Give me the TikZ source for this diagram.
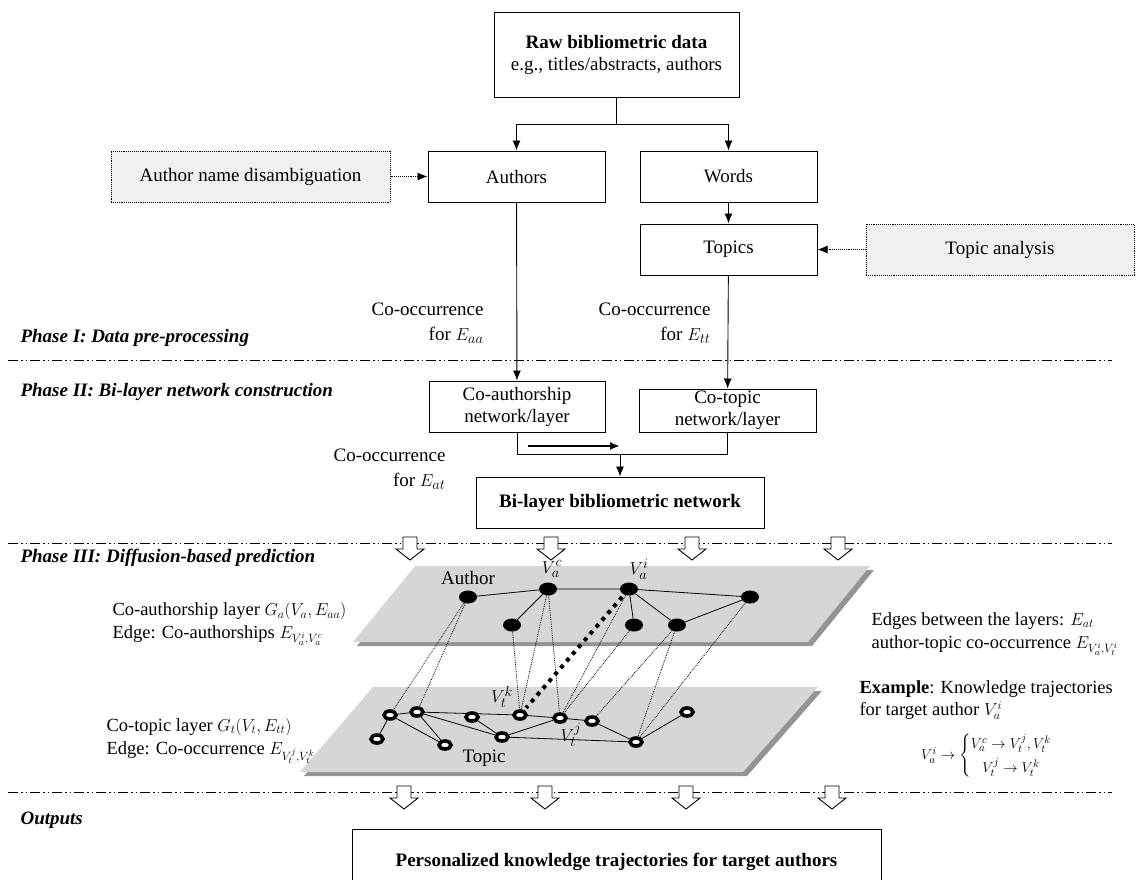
\documentclass[tikz,border=0pt]{standalone}
\usepackage{amsmath}
\usepackage{fontspec}
\setmainfont{Liberation Serif}
\usetikzlibrary{arrows.meta}
\usetikzlibrary{positioning}
\usetikzlibrary{shapes.geometric}

\begin{document}
\begin{tikzpicture}[
        x=1pt, y=-1pt,
        every node/.style={font=\fontsize{19}{22}\selectfont},
        box/.style={draw, line width=1pt, inner sep=2pt, align=center, minimum height=51pt, fill=white},
        aux/.style={draw, densely dotted, line width=0.9pt, fill=black!6, minimum height=51pt},
        phase/.style={anchor=west, font=\fontsize{19}{22}\selectfont\bfseries\itshape},
        lbl/.style={align=right, anchor=east},
        note/.style={align=left, anchor=west, font=\fontsize{18.5}{22}\selectfont},
        arrow/.style={->, >={Latex[length=10pt,width=8pt]}, line width=0.9pt},
        dotarrow/.style={arrow, densely dotted},
        sep/.style={line width=0.9pt, dash pattern=on 10pt off 3pt on 1.5pt off 3pt on 1.5pt off 3pt},
        hollow/.style={draw, fill=white, line width=0.9pt},
        plane/.style={fill=black!16},
        shade/.style={fill=black!42},
        anode/.style={ellipse, fill=black, minimum width=18pt, minimum height=13pt, inner sep=0pt},
        tnode/.style={ellipse, draw, line width=3.6pt, fill=white, minimum width=12pt, minimum height=8pt, inner sep=0pt},
        edge/.style={line width=0.8pt},
        link/.style={densely dotted, line width=0.8pt},
        bold/.style={line width=4pt, dash pattern=on 4pt off 5pt}
    ]
        \useasboundingbox (0,0) rectangle (1137,879);
        \clip (0,0) rectangle (1137,879);

        % Phase I
        \node[box, minimum width=245pt, minimum height=85pt] (raw) at (616.5,54.5) {\textbf{Raw bibliometric data}\\e.g., titles/abstracts, authors};
        \node[box, minimum width=177pt] (authors) at (516.5,176.5) {Authors};
        \node[box, minimum width=177pt, right=34pt of authors] (words) {Words};
        \node[box, minimum width=177pt, below=21pt of words] (topics) {Topics};
        \node[aux, minimum width=279pt, left=37pt of authors] (disamb) {Author name disambiguation};
        \node[aux, minimum width=268pt, right=48pt of topics] (topicana) {Topic analysis};
        \node[lbl] (occaa) at (487,323) {Co-occurrence\\[3pt]for $E_{aa}$};
        \node[lbl] (occtt) at (714,323) {Co-occurrence\\[3pt]for $E_{tt}$};
        \node[phase] (ph1) at (17,338) {Phase I: Data pre-processing};

        % Phase II
        \node[phase] (ph2) at (17,392) {Phase II: Bi-layer network construction};
        \node[box, minimum width=176pt] (coauth) at (517,406.5) {Co-authorship\\network/layer};
        \node[box, minimum width=177pt, minimum height=43pt] (cotopic) at (727.5,410.5) {Co-topic\\network/layer};
        \node[box, minimum width=288pt] (bilayer) at (620,502.5) {\textbf{Bi-layer bibliometric network}};
        \node[lbl] (occat) at (449,469) {Co-occurrence\\[3pt]for $E_{at}$};
        \coordinate (split) at (616.5,124);
        \coordinate (join) at (620,454);
        \coordinate (flowL) at (528,446);
        \coordinate (flowR) at (620,446);

        % Phase III
        \node[phase] (ph3) at (17,558) {Phase III: Diffusion-based prediction};
        \fill[shade] (357,646) -- (419,570) -- (874,570) -- (812,646) -- cycle;
        \fill[plane] (353,642) -- (415,566) -- (870,566) -- (808,642) -- cycle;
        \fill[shade] (304,776) -- (377,691) -- (822,691) -- (747,776) -- cycle;
        \fill[plane] (300,772) -- (373,687) -- (818,687) -- (743,772) -- cycle;

        \node[anode] (au1) at (468,597) {};
        \node[anode] (auc) at (548,589) {};
        \node[anode] (aui) at (629,589) {};
        \node[anode] (au4) at (750,597) {};
        \node[anode] (au5) at (512,625) {};
        \node[anode] (au6) at (634,625) {};
        \node[anode] (au7) at (677,625) {};
        \node (authorlbl) at (468,578) {Author};
        \node (vaclbl) at (552,569) {$V_a^c$};
        \node (vailbl) at (639,569) {$V_a^i$};

        \node[tnode] (tp1) at (390,715) {};
        \node[tnode] (tp2) at (417,712) {};
        \node[tnode] (tp3) at (472,717) {};
        \node[tnode] (tpk) at (520,715) {};
        \node[tnode] (tpj) at (560,718) {};
        \node[tnode] (tp6) at (592,721) {};
        \node[tnode] (tp7) at (687,712) {};
        \node[tnode] (tp8) at (377,739) {};
        \node[tnode] (tp9) at (445,745) {};
        \node[tnode] (tp10) at (502,737) {};
        \node[tnode] (tp11) at (636,742) {};
        \node (topiclbl) at (484,758) {Topic};
        \node (vtklbl) at (502,697) {$V_t^k$};
        \node (vtjlbl) at (571,735) {$V_t^j$};

        \node[note] (aunote) at (109,624) {Co-authorship layer $G_a(V_a,E_{aa})$\\[1pt]Edge: Co-authorships $E_{V_a^i,V_a^c}$};
        \node[note] (tpnote) at (103,741) {Co-topic layer $G_t(V_t,E_{tt})$\\[1pt]Edge: Co-occurrence $E_{V_t^j,V_t^k}$};
        \node[note] (eatnote) at (868,634) {Edges between the layers: $E_{at}$\\[1pt]author-topic co-occurrence $E_{V_a^i,V_t^i}$};
        \node[note] (exnote) at (856,700) {\textbf{Example}: Knowledge trajectories\\for target author $V_a^i$};
        \node[anchor=west, inner sep=0pt] (traj) at (921,756) {\fontsize{15}{17}\selectfont$V_a^i \rightarrow \left\{\begin{array}{@{}c@{}} V_a^c \rightarrow V_t^j, V_t^k\\[5pt] V_t^j \rightarrow V_t^k\end{array}\right.$};

        % Outputs
        \node[phase] (ph4) at (17,820) {Outputs};
        \node[box, minimum width=529pt, minimum height=66pt] (output) at (616.5,862) {\textbf{Personalized knowledge trajectories for target authors}};

        % Phase separators
        \draw[sep] (8,360) -- (1112,360);
        \draw[sep] (8,543) -- (1112,543);
        \draw[sep] (8,792) -- (1112,792);
        \foreach \x in {410,551,692,838}
            \draw[hollow] (\x-7,537) -- (\x+7,537) -- (\x+7,549) -- (\x+14,549) -- (\x,560) -- (\x-14,549) -- (\x-7,549) -- cycle;
        \foreach \x in {404,545,686,832}
            \draw[hollow] (\x-7,786) -- (\x+7,786) -- (\x+7,798) -- (\x+14,798) -- (\x,809) -- (\x-14,798) -- (\x-7,798) -- cycle;

        % Flow arrows
        \draw[line width=0.9pt] (raw) -- (split);
        \draw[arrow] (split) -| (authors);
        \draw[arrow] (split) -| (words);
        \draw[arrow] (words) -- (topics);
        \draw[dotarrow] (disamb) -- (authors);
        \draw[dotarrow] (topicana) -- (topics);
        \draw[arrow] (authors) -- (coauth);
        \draw[arrow] (topics) -- (cotopic);
        \draw[line width=0.9pt] (coauth) |- (join) -| (cotopic);
        \draw[arrow] (join) -- (bilayer);
        \draw[arrow, line width=2pt] (flowL) -- (flowR);

        % Layer edges
        \draw[edge] (au1) -- (auc) -- (aui) -- (au4) -- (au7) -- (aui) -- (au6);
        \draw[edge] (auc) -- (au5);
        \draw[edge] (tp8) -- (tp1) -- (tp2) -- (tpk) -- (tpj) -- (tp6) -- (tp11) -- (tp7);
        \draw[edge] (tp1) -- (tp9) -- (tp2) -- (tp10) -- (tp3);
        \draw[edge] (tp10) -- (tpj);
        \draw[edge] (tp10) -- (tp11);

        % Links between the layers
        \draw[link] (au1) -- (tp1);
        \draw[link] (au1) -- (tp2);
        \draw[link] (au5) -- (tpk);
        \draw[link] (auc) -- (tpk);
        \draw[link] (auc) -- (tpj);
        \draw[link] (aui) -- (tpj);
        \draw[link] (au6) -- (tpj);
        \draw[link] (au7) -- (tp6);
        \draw[link] (au7) -- (tp11);
        \draw[link] (au4) -- (tp11);
        \draw[bold, shorten <=3pt, shorten >=3pt] (aui) -- (tpk);
    \end{tikzpicture}
\end{document}
